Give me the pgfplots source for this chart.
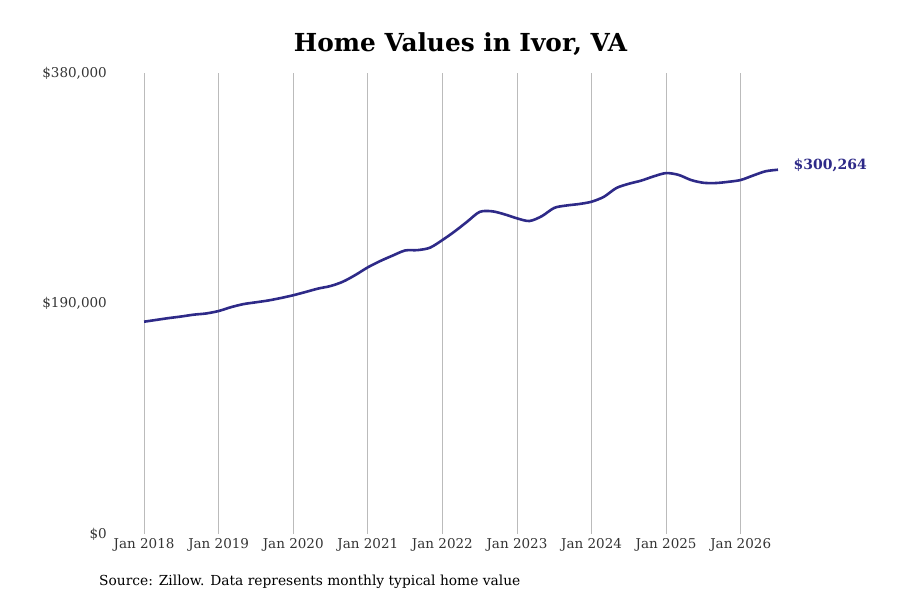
\documentclass[border=0pt]{standalone}
\usepackage{pgfplots}
\pgfplotsset{compat=1.18}
\usepackage{fontspec}
\setmainfont{DejaVu Serif}
\definecolor{linec}{HTML}{2E2A88}
\definecolor{tickc}{HTML}{333333}
\definecolor{gridc}{HTML}{BBBBBB}
\pgfplotstableread{
m v
0 175000
2 176500
4 178000
6 179300
8 180800
10 181800
12 183800
14 187000
16 189500
18 191000
20 192500
22 194500
24 196800
26 199500
28 202300
30 204400
32 208000
34 213500
36 219800
38 225000
40 229500
42 233700
44 234000
46 236000
48 242300
50 249500
52 257500
54 265500
56 266000
58 263500
60 260200
62 258000
64 262000
66 268800
68 270800
70 272000
72 273900
74 278000
76 285200
78 288700
80 291300
82 294800
84 297500
86 296000
88 291800
90 289500
92 289300
94 290300
96 291800
98 295500
100 299000
102 300264
}\homevals
\begin{document}
\begin{tikzpicture}
\useasboundingbox (0pt,0pt) rectangle (900pt,600pt);
\begin{axis}[
  at={(113pt,66pt)}, anchor=south west,
  scale only axis, width=665pt, height=461pt,
  xmin=-5, xmax=102, ymin=0, ymax=380000,
  scaled ticks=false,
  axis line style={draw=none},
  xtick={0,12,24,36,48,60,72,84,96},
  xticklabels={Jan 2018,Jan 2019,Jan 2020,Jan 2021,Jan 2022,Jan 2023,Jan 2024,Jan 2025,Jan 2026},
  ytick={0,190000,380000},
  yticklabels={{\$0},{\$190,000},{\$380,000}},
  major tick length=0pt,
  xmajorgrids, ymajorgrids=false,
  grid style={gridc, line width=0.8pt},
  tick label style={font=\fontsize{13.5}{16}\selectfont, text=tickc},
  xticklabel style={anchor=north, inner sep=0pt, yshift=-4pt},
  yticklabel style={anchor=east, inner sep=0pt, xshift=-6pt},
  clip=false,
]
\addplot[linec, line width=2.6pt, smooth] table[x=m, y=v] {\homevals};
\node[anchor=west, text=linec, font=\bfseries\fontsize{14}{16}\selectfont, inner sep=0pt] at (axis cs:104.5,303500) {\$300,264};
\end{axis}
\node[font=\bfseries\fontsize{24.8}{28}\selectfont] at (460.5pt,556pt) {Home Values in Ivor, VA};
\node[anchor=west, inner sep=0pt, font=\fontsize{13.8}{16}\selectfont] at (99pt,18pt) {Source: Zillow. Data represents monthly typical home value};
\end{tikzpicture}
\end{document}
